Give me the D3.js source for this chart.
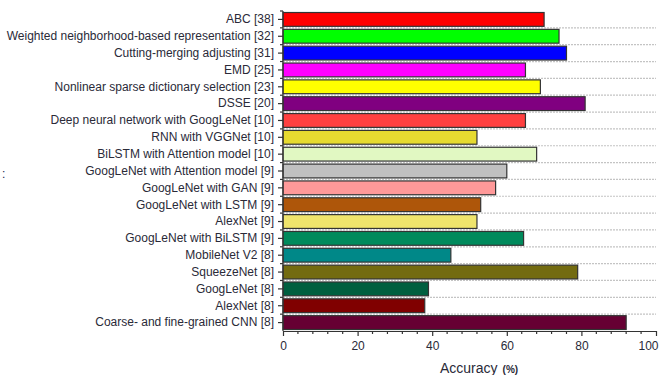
<!DOCTYPE html>
<html>
<head>
<meta charset="utf-8">
<script src="https://cdn.jsdelivr.net/npm/d3@7"></script>
<style>
  html, body { margin: 0; padding: 0; background: #fff; }
  svg { display: block; font-family: "Liberation Sans", Arial, sans-serif; }
</style>
</head>
<body>
<svg id="chart" width="665" height="375"></svg>
<script>
const categories = [
  "ABC [38]",
  "Weighted neighborhood-based representation [32]",
  "Cutting-merging adjusting [31]",
  "EMD [25]",
  "Nonlinear sparse dictionary selection [23]",
  "DSSE [20]",
  "Deep neural network with GoogLeNet [10]",
  "RNN with VGGNet [10]",
  "BiLSTM with Attention model [10]",
  "GoogLeNet with Attention model [9]",
  "GoogLeNet with GAN [9]",
  "GoogLeNet with LSTM [9]",
  "AlexNet [9]",
  "GoogLeNet with BiLSTM [9]",
  "MobileNet V2 [8]",
  "SqueezeNet [8]",
  "GoogLeNet [8]",
  "AlexNet [8]",
  "Coarse- and fine-grained CNN [8]"
];
const accuracy = [70, 74, 76, 65, 69, 81, 65, 52, 68, 60, 57, 53, 52, 64.5, 45, 79, 39, 38, 92];
const barColors = [
  "#ff0000", "#00ff00", "#0000ff", "#ff00ff", "#ffff00", "#800080", "#ff4040",
  "#e6da30", "#e1f8c2", "#c0c0c0", "#ff9999", "#ae560a", "#efe46c", "#008a5c",
  "#008888", "#736b10", "#005f3f", "#800000", "#660033"
];
const xTicks = [0, 20, 40, 60, 80, 100];
const xLabel = "Accuracy";
const xUnit = "(%)";

const svg = d3.select("#chart");
const mLeft = 283, mRight = 656, mTop = 11, mBottom = 331;

const x = d3.scaleLinear().domain([0, 100]).range([mLeft, mRight]);
const y = d3.scaleBand().domain(categories).range([mTop, mBottom])
  .paddingInner(0.18).paddingOuter(0.09);
const yb = d3.scaleLinear().domain([0, categories.length]).range([mTop, mBottom]);

// gridlines at band boundaries
svg.append("g").selectAll("line")
  .data(d3.range(1, categories.length))
  .join("line")
  .attr("x1", mLeft).attr("x2", mRight)
  .attr("y1", d => yb(d)).attr("y2", d => yb(d))
  .attr("stroke", "#c4c4c4").attr("stroke-width", 1.2)
  .attr("stroke-dasharray", "2,1");

// bars
svg.append("g").selectAll("rect")
  .data(categories)
  .join("rect")
  .attr("x", x(0))
  .attr("y", d => y(d))
  .attr("width", (d, i) => x(accuracy[i]) - x(0))
  .attr("height", y.bandwidth())
  .attr("fill", (d, i) => barColors[i])
  .attr("stroke", "#333")
  .attr("stroke-width", 1.2);

// y axis
const yAxis = svg.append("g").attr("transform", `translate(${mLeft},0)`)
  .call(d3.axisLeft(y).tickSize(5).tickPadding(4));
yAxis.select(".domain").attr("stroke", "#333").attr("stroke-width", 1.2).attr("d", `M0,${mTop}V${mBottom}`);
yAxis.selectAll(".tick line").attr("stroke", "#333").attr("stroke-width", 1.2);
yAxis.selectAll(".tick text").attr("font-size", 12).attr("fill", "#2a2a38")
  .attr("font-family", "Liberation Sans, Arial, sans-serif");
// minor y ticks at boundaries
svg.append("g").selectAll("line")
  .data(d3.range(0, categories.length))
  .join("line")
  .attr("x1", mLeft - 3).attr("x2", mLeft)
  .attr("y1", d => yb(d)).attr("y2", d => yb(d))
  .attr("stroke", "#333").attr("stroke-width", 1.2);

// x axis
const xAxis = svg.append("g").attr("transform", `translate(0,${mBottom})`)
  .call(d3.axisBottom(x).tickValues(xTicks).tickSize(5).tickPadding(5).tickSizeOuter(0));
xAxis.select(".domain").attr("stroke", "#333").attr("stroke-width", 1.2);
xAxis.selectAll(".tick line").attr("stroke", "#333").attr("stroke-width", 1.2);
xAxis.selectAll(".tick text").attr("font-size", 12).attr("fill", "#2a2a38")
  .attr("font-family", "Liberation Sans, Arial, sans-serif");
xAxis.selectAll(".tick text").filter(d => d === 100)
  .attr("text-anchor", "end").attr("x", 2);
// minor x ticks
svg.append("g").selectAll("line")
  .data(d3.range(0, 101, 4).filter(v => v % 20 !== 0))
  .join("line")
  .attr("x1", d => x(d)).attr("x2", d => x(d))
  .attr("y1", mBottom).attr("y2", mBottom + 3)
  .attr("stroke", "#333").attr("stroke-width", 1.2);

// x axis title
const t = svg.append("text")
  .attr("x", 440).attr("y", 373)
  .attr("fill", "#2a2a38");
t.append("tspan").attr("font-size", 14).text(xLabel);
t.append("tspan").attr("font-size", 10).attr("font-weight", "bold").attr("dx", 5).text(xUnit);

// stray mark at left edge
svg.append("text").attr("x", 2).attr("y", 178).attr("font-size", 12)
  .attr("fill", "#1a2a50").text(":");
</script>
</body>
</html>
